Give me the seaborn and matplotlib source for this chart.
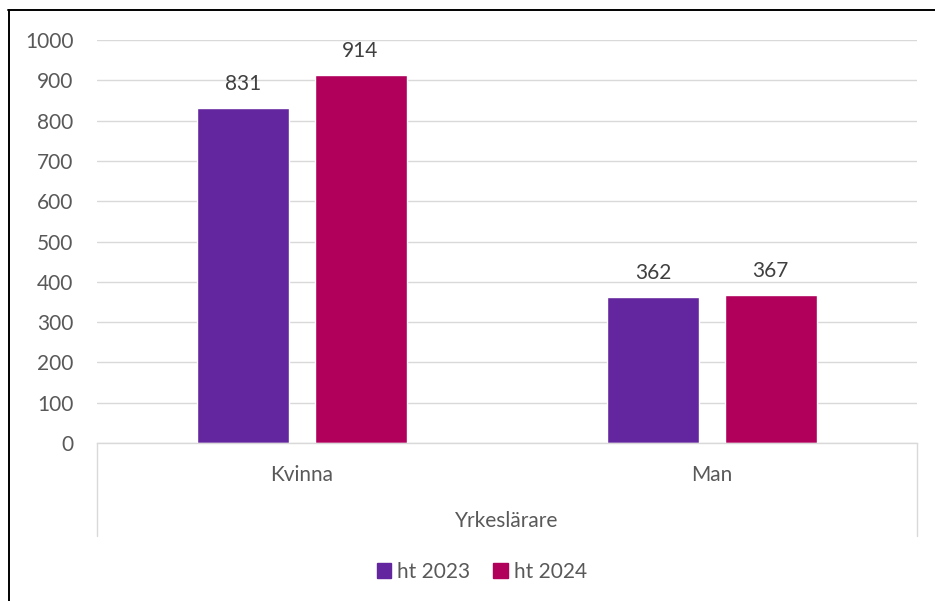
import matplotlib
matplotlib.use("Agg")
import matplotlib.pyplot as plt
import matplotlib.lines as mlines
import matplotlib.patches as mpatches
import pandas as pd
import seaborn as sns

categories = ["Kvinna", "Man"]
series = ["ht 2023", "ht 2024"]
values_2023 = [831, 362]
values_2024 = [914, 367]
y_ticks = [0, 100, 200, 300, 400, 500, 600, 700, 800, 900, 1000]
group_label = "Yrkeslärare"

colors = {"ht 2023": "#63269E", "ht 2024": "#B0005C"}
text_gray = "#595959"
grid_gray = "#D9D9D9"

df = pd.DataFrame({
    "kategori": categories * 2,
    "termin": [series[0]] * 2 + [series[1]] * 2,
    "antal": values_2023 + values_2024,
})

sns.set_theme(style="white")
plt.rcParams["font.family"] = ["Lato", "DejaVu Sans"]

W, H = 935, 601
fig = plt.figure(figsize=(W / 100, H / 100), dpi=100)
ax = fig.add_axes([97 / W, 1 - 443 / H, (917 - 97) / W, (443 - 40) / H])

sns.barplot(data=df, x="kategori", y="antal", hue="termin", order=categories,
            hue_order=series, palette=colors, width=0.571, gap=0.214,
            saturation=1, legend=False, ax=ax)

for cont in ax.containers:
    ax.bar_label(cont, padding=10, fontsize=15, color="#404040")

ax.set_xlim(-0.5, 1.5)
ax.set_ylim(0, 1000)
ax.set_yticks(y_ticks)
ax.yaxis.grid(True, color=grid_gray, lw=1.0)
ax.set_axisbelow(True)
for side in ["top", "right", "left"]:
    ax.spines[side].set_visible(False)
ax.spines["bottom"].set_color(grid_gray)
ax.spines["bottom"].set_linewidth(1.0)
ax.tick_params(axis="both", length=0, labelsize=15, labelcolor=text_gray)
ax.tick_params(axis="y", pad=17)
ax.tick_params(axis="x", pad=16)
ax.set_xlabel("")
ax.set_ylabel("")

# category frame lines and group label
depth = -(536 - 443) / (443 - 40)
trans = ax.get_xaxis_transform()
for xv in [-0.5, 1.5]:
    ax.plot([xv, xv], [0, depth], color=grid_gray, lw=1.0, transform=trans, clip_on=False)
ax.text(0.5, -(521 - 443) / (443 - 40), group_label, transform=trans,
        ha="center", va="center", fontsize=15, color=text_gray)

handles = [mpatches.Patch(color=colors[s], label=s) for s in series]
fig.legend(handles=handles, loc="center", bbox_to_anchor=(482 / W, 1 - 572 / H),
           ncol=2, frameon=False, fontsize=15, handlelength=0.7, handleheight=0.7,
           handletextpad=0.3, columnspacing=1.1, labelcolor=text_gray)

# outer frame (left and top edges visible)
fig.add_artist(mlines.Line2D([8.5 / W, 8.5 / W], [0, 1 - 10 / H], color="black", lw=1.4))
fig.add_artist(mlines.Line2D([8 / W, 1], [1 - 10 / H, 1 - 10 / H], color="black", lw=1.4))

fig.savefig("out.png", dpi=100)
